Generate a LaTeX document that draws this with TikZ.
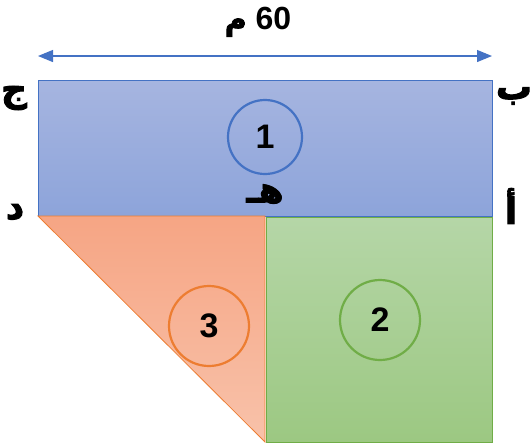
\documentclass[tikz,border=0pt]{standalone}
\usepackage{fontspec}
\usetikzlibrary{arrows.meta}
\TeXXeTstate=1
\setmainfont{Liberation Sans}
\newfontfamily\arabicfont[Script=Arabic,FakeBold=2.5]{DejaVu Sans Bold}
\newfontfamily\digitfont{Liberation Sans Bold}
\definecolor{bluel}{HTML}{4472C4}
\definecolor{orangel}{HTML}{ED7D31}
\definecolor{greenl}{HTML}{70AD47}
\tikzset{
  lbl/.style={font=\arabicfont\fontsize{36}{40}\selectfont, inner sep=0pt},
  num/.style={font=\digitfont\fontsize{34}{38}\selectfont, inner sep=0pt},
  ring/.style={circle, line width=2.2pt, minimum size=#1, inner sep=0pt}
}
\begin{document}
\begin{tikzpicture}[x=1pt,y=-1pt]
\useasboundingbox (0,0) rectangle (532,445);
% blue rectangle
\path[draw=bluel, line width=0.8pt, top color={rgb,255:red,166;green,181;blue,224}, bottom color={rgb,255:red,141;green,164;blue,218}] (38,80) rectangle (492,216);
% orange triangle
\path[draw=orangel, line width=0.8pt, top color={rgb,255:red,246;green,165;blue,132}, bottom color={rgb,255:red,248;green,194;blue,170}] (38,216) -- (265,216) -- (265,442) -- cycle;
% green square
\path[draw=greenl, line width=0.8pt, top color={rgb,255:red,181;green,214;blue,167}, bottom color={rgb,255:red,156;green,200;blue,130}] (266,217) rectangle (492,442);
% circles
\node[ring=74pt, draw=bluel] (c1) at (265,137) {};
\node[num] at (c1) {1};
\node[ring=80pt, draw=greenl] (c2) at (380,320) {};
\node[num] at (c2) {2};
\node[ring=80pt, draw=orangel] (c3) at (209,326) {};
\node[num] at (c3) {3};
% dimension arrow
\coordinate (aL) at (38,56);
\coordinate (aR) at (492,56);
\draw[bluel, line width=1.2pt, {Triangle[length=15pt,width=12pt]}-{Triangle[length=15pt,width=12pt]}] (aL) -- (aR);
\node[font=\digitfont\fontsize{32}{36}\selectfont, inner sep=0pt] (dim) at (258,22) {\beginR\beginL 60\endL{} {\arabicfont\fontsize{30}{34}\selectfont م}\endR};
% vertex labels
\node[lbl] (J) at (14,98) {\beginR ج\endR};
\node[lbl] (B) at (514,96) {\beginR ب\endR};
\node[lbl] (A) at (511,206) {\beginR أ\endR};
\node[lbl] (D) at (15,212) {\beginR د\endR};
\node[lbl] (H) at (265,194) {\beginR هـ\endR};
\end{tikzpicture}
\end{document}
